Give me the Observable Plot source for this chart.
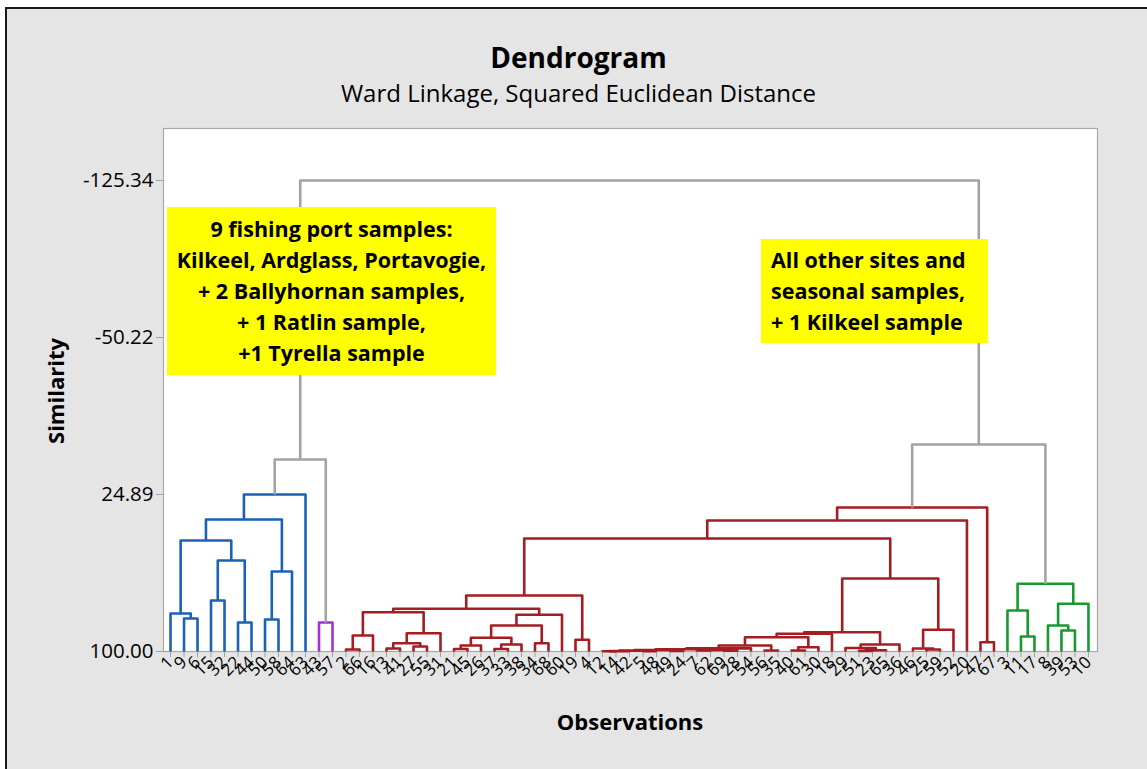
<!DOCTYPE html>
<html><head><meta charset="utf-8">
<script src="https://cdn.jsdelivr.net/npm/d3@7"></script>
<script src="https://cdn.jsdelivr.net/npm/@observablehq/plot@0.6"></script>
<style>
body{margin:0;background:#fff;font-family:"Open Sans","Noto Sans",sans-serif;}
#wrap{position:relative;width:1147px;height:769px;overflow:hidden;background:#fff}
#panel{position:absolute;left:5px;top:7px;width:1170px;height:790px;border:2px solid #1a1a1a;background:#e5e5e5;box-sizing:border-box}
#chart{position:absolute;left:0;top:0}
.t{position:absolute;white-space:nowrap;color:#000}
#title{left:0;width:1157px;text-align:center;top:39px;font-size:28px;font-weight:700;line-height:36px}
#subtitle{left:0;width:1157px;text-align:center;top:77px;font-size:24px;font-weight:400;line-height:32px}
#xlab{left:163px;width:934px;text-align:center;top:706px;font-size:22px;font-weight:700;line-height:30px}
#ylab{left:55px;top:391px;font-size:22px;font-weight:700;line-height:30px;transform:translate(-50%,-50%) rotate(-90deg)}
.box{position:absolute;background:#ffff00;font-weight:700;font-size:21.5px;line-height:31px;box-sizing:border-box;color:#000}
#box1{left:167px;top:207px;width:329px;height:168px;text-align:center;padding-top:6px}
#box2{left:761px;top:239px;width:227px;height:104px;text-align:left;padding-left:10px;padding-top:5px}
</style></head>
<body>
<div id="wrap">
<div id="panel"></div>
<div id="chart"></div>
<div class="t" id="title">Dendrogram</div>
<div class="t" id="subtitle">Ward Linkage, Squared Euclidean Distance</div>
<div class="t" id="xlab">Observations</div>
<div class="t" id="ylab">Similarity</div>
<div class="box" id="box1">9 fishing port samples:<br>Kilkeel, Ardglass, Portavogie,<br>+ 2 Ballyhornan samples,<br>+ 1 Ratlin sample,<br>+1 Tyrella sample</div>
<div class="box" id="box2">All other sites and<br>seasonal samples,<br>+ 1 Kilkeel sample</div>
</div>
<script>
// Leaf (observation) labels in dendrogram order
const leafLabels = ["1","9","6","15","32","22","44","50","58","64","63","43","57",
  "2","66","16","13","41","27","55","31","21","45","26","37","33","38","34","68","60","19","4",
  "12","14","42","5","48","49","24","7","62","69","28","54","56","35","40","61","30","18","29","51","23","65","36","46","25","59","52","20","47","67",
  "3","11","17","8","39","53","10"];

// Merges: children are node ids (leaves 0..68 by position, merge k creates node 69+k)
const mergeLeft  = [1,0,3,5,71,70,7,75,74,77,11,78,
  13,81,16,18,83,85,82,21,88,24,90,89,27,92,94,87,30,96,
  32,99,35,100,37,102,39,41,105,104,108,44,109,46,112,111,114,51,116,50,118,115,56,55,122,120,98,125,60,126,
  63,62,66,65,132,130,
  128,80];
const mergeRight = [2,69,4,6,72,73,8,9,76,10,12,79,
  14,15,17,19,84,20,86,22,23,25,26,91,28,93,29,95,31,97,
  33,34,36,101,38,103,40,42,106,107,43,45,110,47,48,113,49,52,53,117,54,119,57,121,58,123,124,59,61,127,
  64,129,67,131,68,133,
  134,135];
const mergeSimilarity = [84.21,81.82,75.60,86.13,56.47,46.90,84.69,61.73,36.85,24.89,86.13,8.15,
  99.04,92.35,98.56,97.61,96.03,91.25,81.20,98.80,97.13,98.80,96.65,93.45,96.03,87.56,82.44,79.57,94.40,73.21,
  99.90,99.80,99.85,99.60,99.70,99.30,99.50,99.60,99.20,98.90,98.50,99.52,97.13,99.52,97.94,93.16,91.53,99.70,99.40,98.30,96.65,90.77,99.04,98.56,89.62,65.08,45.94,37.33,95.55,31.11,
  92.82,80.39,89.95,87.56,77.18,67.61,
  0.97,-125.34];
const mergeCluster = ["C1","C1","C1","C1","C1","C1","C1","C1","C1","C1","C2","link",
  ...Array(48).fill("C3"),
  "C4","C4","C4","C4","C4","C4",
  "link","link"];

const clusterNames = ["C1","C2","C3","C4","link"];
const clusterColors = ["#1a62b5","#a52fd3","#a51d22","#17992f","#a3a3a3"];
const yTicks = [100, 24.89, -50.22, -125.34];

// build elbow paths from the merge table
const nLeaf = leafLabels.length;
const nodeX = [], nodeY = [];
for (let i = 0; i < nLeaf; i++) { nodeX[i] = i; nodeY[i] = 100; }
const segs = [];
mergeLeft.forEach((a, k) => {
  const b = mergeRight[k], h = mergeSimilarity[k], id = nLeaf + k, c = mergeCluster[k];
  nodeX[id] = (nodeX[a] + nodeX[b]) / 2; nodeY[id] = h;
  segs.push({id, c, x: nodeX[a], y: nodeY[a]}, {id, c, x: nodeX[a], y: h},
            {id, c, x: nodeX[b], y: h}, {id, c, x: nodeX[b], y: nodeY[b]});
});

const chart = Plot.plot({
  width: 1147, height: 769,
  marginLeft: 163, marginRight: 50, marginTop: 128, marginBottom: 118,
  style: {background: "transparent", color: "#000", fontFamily: "'Open Sans','Noto Sans',sans-serif"},
  x: {type: "linear", domain: [-0.52, nLeaf - 1 + 0.67], label: null},
  y: {type: "linear", domain: [100, -150.2], label: null},
  color: {type: "ordinal", domain: clusterNames, range: clusterColors},
  marks: [
    Plot.frame({fill: "white", stroke: "#a8a8a8", strokeWidth: 1.2}),
    Plot.axisY({ticks: yTicks, tickFormat: d => d.toFixed(2), tickSize: 7, tickPadding: 3,
      fontSize: 20.5, stroke: "#a0a0a0", fill: "#000", label: null}),
    Plot.axisX({ticks: d3.range(nLeaf), tickFormat: i => leafLabels[i], tickRotate: -45,
      tickSize: 6, tickPadding: 2, fontSize: 17, stroke: "#a0a0a0", fill: "#000", label: null}),
    Plot.line(segs, {x: "x", y: "y", z: "id", stroke: "c", strokeWidth: 2.6,
      strokeLinejoin: "round", strokeLinecap: "butt", curve: "linear"})
  ]
});
document.getElementById("chart").appendChild(chart);
</script>
</body></html>
